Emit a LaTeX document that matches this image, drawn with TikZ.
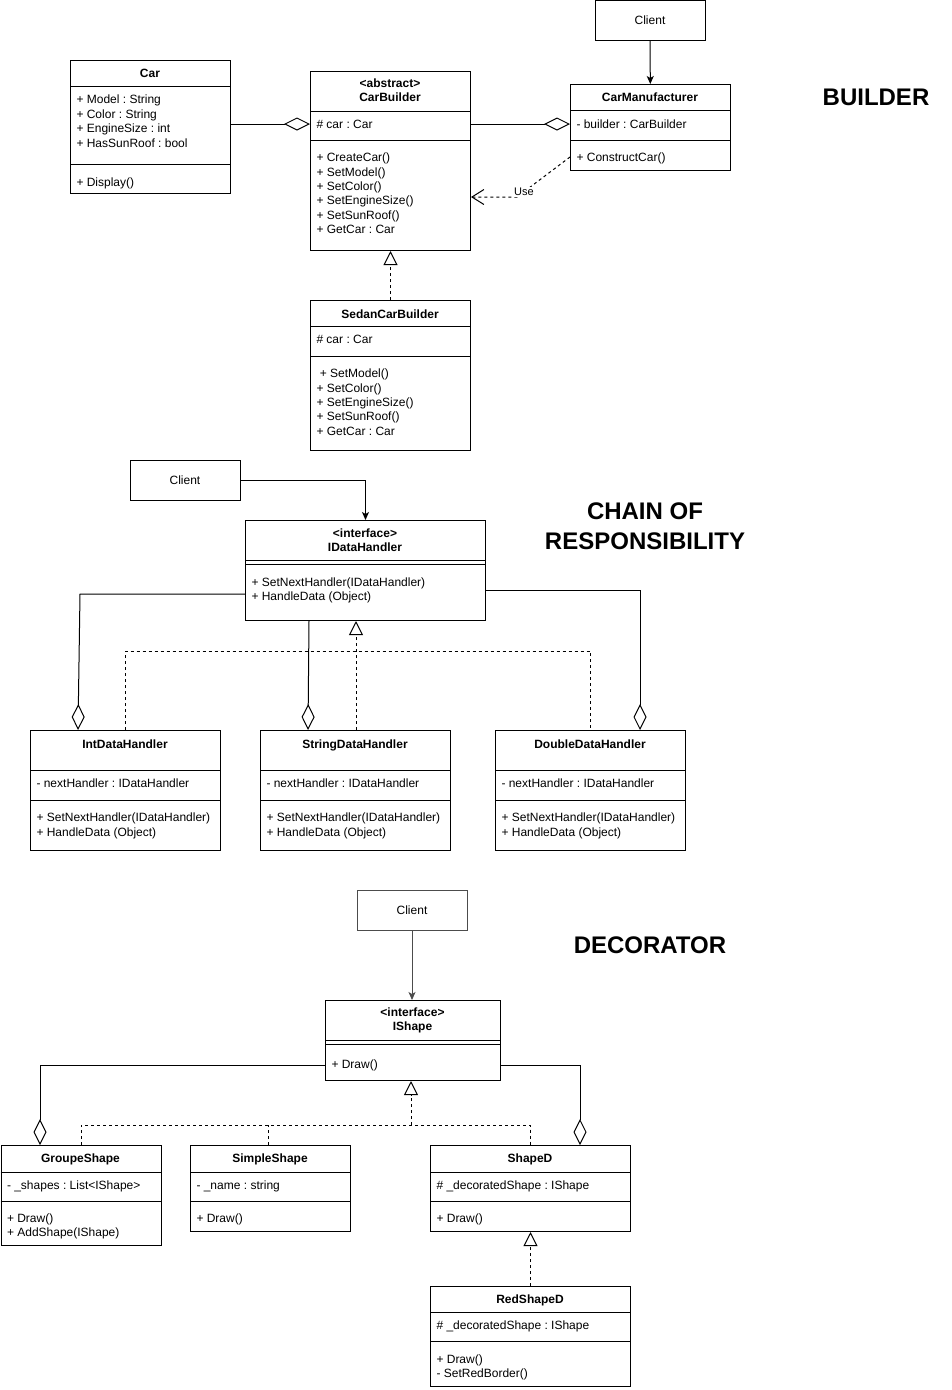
\documentclass[tikz,border=0pt]{standalone}
\usepackage{fontspec}
\setmainfont{Liberation Sans}
\frenchspacing
\usetikzlibrary{arrows.meta, calc, positioning}

\tikzset{
  classbox/.style={draw, line width=1pt, inner sep=0pt, anchor=north west, fill=white},
  clientbox/.style={draw, line width=1pt, inner sep=0pt, minimum width=110pt, minimum height=40pt, font=\fontsize{12}{14.4}\selectfont},
  member/.style={anchor=west, inner sep=0pt, text height=8.6pt, text depth=0pt, font=\fontsize{12}{14.4}\selectfont},
  classname/.style={inner sep=0pt, text height=8.6pt, text depth=0pt, font=\fontsize{12}{14.4}\selectfont\bfseries},
  stereo/.style={inner sep=0pt, align=center, font=\fontsize{12}{14.4}\selectfont\bfseries},
  title/.style={inner sep=0pt, align=center, font=\fontsize{24}{30}\selectfont\bfseries},
  call/.style={line width=1pt, -{Stealth[length=8pt,width=7pt,inset=2pt]}},
  aggr/.style={line width=1pt, -{Diamond[open,length=26pt,width=13pt]}},
  dashline/.style={line width=1pt, dash pattern=on 3pt off 3pt},
  realize/.style={dashline, -{Triangle[open,length=14pt,width=14pt]}},
  use/.style={dashline, -{Straight Barb[length=12pt,width=15pt]}},
  uselabel/.style={fill=white, inner sep=1pt, font=\fontsize{11}{13}\selectfont}
}

\begin{document}
\begin{tikzpicture}[x=1pt, y=-1pt, line width=1pt]
\useasboundingbox (0,0) rectangle (951,1390);

%%% builder
\node[title] (t-builder) at (876,97) {BUILDER};
\node[clientbox] (clientA) at (650,20.5) {Client};

\node[classbox, minimum width=160pt, minimum height=133pt] (car) at (70,60) {};
\draw (car.north west) ++(0,26) -- ++(160,0);
\draw (car.north west) ++(0,104) -- ++(160,0);
\node[classname] (car-name) at (150,73) {Car};
\foreach \m [count=\i from 0] in {+ Model : String, + Color : String, + EngineSize : int, + HasSunRoof : bool}
  \node[member] (car-a\i) at (76,{99.5+14.4*\i}) {\m};
\node[member] (car-m0) at (76,182) {+ Display()};

\node[classbox, minimum width=160pt, minimum height=179pt] (cb) at (310,71) {};
\draw (cb.north west) ++(0,40) -- ++(160,0);
\draw (cb.north west) ++(0,69) -- ++(160,0);
\node[stereo] (cb-name) at (390,90.5) {<abstract>\\CarBuilder};
\node[member] (cb-a0) at (316,124) {\# car : Car};
\foreach \m [count=\i from 0] in {+ CreateCar(), + SetModel(), + SetColor(), + SetEngineSize(), + SetSunRoof(), + GetCar : Car}
  \node[member] (cb-m\i) at (316,{157.3+14.4*\i}) {\m};

\node[classbox, minimum width=160pt, minimum height=86pt] (cm) at (570,84) {};
\draw (cm.north west) ++(0,26) -- ++(160,0);
\draw (cm.north west) ++(0,56) -- ++(160,0);
\node[classname] (cm-name) at (650,97.5) {CarManufacturer};
\node[member] (cm-a0) at (576,124) {- builder : CarBuilder};
\node[member] (cm-m0) at (576,157) {+ ConstructCar()};

\node[classbox, minimum width=160pt, minimum height=150pt] (sedan) at (310,300) {};
\draw (sedan.north west) ++(0,26) -- ++(160,0);
\draw (sedan.north west) ++(0,56) -- ++(160,0);
\node[classname] (sedan-name) at (390,314) {SedanCarBuilder};
\node[member] (sedan-a0) at (316,339.5) {\# car : Car};
\foreach \m [count=\i from 0] in {\ + SetModel(), + SetColor(), + SetEngineSize(), + SetSunRoof(), + GetCar : Car}
  \node[member] (sedan-m\i) at (316,{373.3+14.4*\i}) {\m};

\draw[call] (clientA) -- (cm);
\draw[aggr] (car.east |- 0,124) -- (cb.west |- 0,124);
\draw[aggr] (cb.east |- 0,124) -- (cm.west |- 0,124);
\draw[use] (cm.west |- 0,157) -- (517,197) node[pos=0.87, uselabel] (use-label) {Use} -- (cb.east |- 0,197);
\draw[realize] (sedan) -- (cb);

%%% chain of responsibility
\node[title] (t-chain) at (645,526) {CHAIN OF\\RESPONSIBILITY};
\node[clientbox] (clientB) at (185,480) {Client};

\node[classbox, minimum width=240pt, minimum height=100pt] (idh) at (245,520) {};
\draw (idh.north west) ++(0,40) -- ++(240,0);
\draw (idh.north west) ++(0,44) -- ++(240,0);
\node[stereo] (idh-name) at (365,540.5) {<interface>\\IDataHandler};
\node[member] (idh-m0) at (251,581.7) {+ SetNextHandler(IDataHandler)};
\node[member] (idh-m1) at (251,596.1) {+ HandleData (Object)};

\foreach \n/\x/\t in {int/30/IntDataHandler, str/260/StringDataHandler, dbl/495/DoubleDataHandler} {
  \node[classbox, minimum width=190pt, minimum height=120pt] (\n) at (\x,730) {};
  \draw (\n.north west) ++(0,40) -- ++(190,0);
  \draw (\n.north west) ++(0,70) -- ++(190,0);
  \node[classname] (\n-name) at (\x+95,744) {\t};
  \node[member] (\n-a0) at (\x+6,783.5) {- nextHandler : IDataHandler};
  \node[member] (\n-m0) at (\x+6,817.3) {+ SetNextHandler(IDataHandler)};
  \node[member] (\n-m1) at (\x+6,831.7) {+ HandleData (Object)};
}

\draw[call] (clientB) -| (idh);
\draw[aggr] (idh.west |- 0,594) -- (80,594) -- (int.north -| 78,0);
\draw[aggr] (idh.south -| 309,0) -- (str.north -| 308,0);
\draw[aggr] (idh.east |- 0,590) -- (640,590) -- (dbl.north -| 640,0);
\draw[dashline] (int.north) |- (356,651) -| (dbl.north);
\draw[realize] (str.north -| 356,0) -- (idh.south -| 356,0);

%%% decorator
\node[title] (t-deco) at (650,945) {DECORATOR};
\node[clientbox, draw=black!70] (clientC) at (412,910) {Client};

\node[classbox, minimum width=175pt, minimum height=80pt] (ishape) at (325,1000) {};
\draw (ishape.north west) ++(0,40) -- ++(175,0);
\draw (ishape.north west) ++(0,44) -- ++(175,0);
\node[stereo] (ishape-name) at (412.5,1020.3) {<interface>\\IShape};
\node[member] (ishape-m0) at (331,1064) {+ Draw()};

\node[classbox, minimum width=160pt, minimum height=100pt] (groupe) at (0.5,1145) {};
\draw (groupe.north west) ++(0,27) -- ++(160,0);
\draw (groupe.north west) ++(0,56) -- ++(160,0);
\node[classname] (groupe-name) at (80.5,1158.5) {GroupeShape};
\node[member] (groupe-a0) at (6.5,1185) {- \_shapes : List<IShape>};
\node[member] (groupe-m0) at (6.5,1218) {+ Draw()};
\node[member] (groupe-m1) at (6.5,1232.4) {+ AddShape(IShape)};

\node[classbox, minimum width=160pt, minimum height=86pt] (simple) at (190,1145) {};
\draw (simple.north west) ++(0,27) -- ++(160,0);
\draw (simple.north west) ++(0,56) -- ++(160,0);
\node[classname] (simple-name) at (270,1158.5) {SimpleShape};
\node[member] (simple-a0) at (196,1185) {- \_name : string};
\node[member] (simple-m0) at (196,1218) {+ Draw()};

\node[classbox, minimum width=200pt, minimum height=86pt] (shaped) at (430,1145) {};
\draw (shaped.north west) ++(0,27) -- ++(200,0);
\draw (shaped.north west) ++(0,56) -- ++(200,0);
\node[classname] (shaped-name) at (530,1158.5) {ShapeD};
\node[member] (shaped-a0) at (436,1185) {\# \_decoratedShape : IShape};
\node[member] (shaped-m0) at (436,1218) {+ Draw()};

\node[classbox, minimum width=200pt, minimum height=100pt] (redshaped) at (430,1286) {};
\draw (redshaped.north west) ++(0,26) -- ++(200,0);
\draw (redshaped.north west) ++(0,55) -- ++(200,0);
\node[classname] (redshaped-name) at (530,1299) {RedShapeD};
\node[member] (redshaped-a0) at (436,1325) {\# \_decoratedShape : IShape};
\node[member] (redshaped-m0) at (436,1359) {+ Draw()};
\node[member] (redshaped-m1) at (436,1373.4) {- SetRedBorder()};

\coordinate (rbar) at (411,1125);
\draw[call, black!70] (clientC.south) -- (clientC.south |- ishape.north);
\draw[aggr] (ishape.west |- 0,1065) -- (40,1065) -- (groupe.north -| 40,0);
\draw[aggr] (ishape.east |- 0,1065) -- (580,1065) -- (shaped.north -| 580,0);
\draw[dashline] (groupe.north) |- (rbar) -| (shaped.north);
\draw[dashline] (simple.north -| 268,0) -- (rbar -| 268,0);
\draw[realize] (rbar) -- (ishape.south -| rbar);
\draw[realize] (redshaped) -- (shaped);
\end{tikzpicture}
\end{document}
